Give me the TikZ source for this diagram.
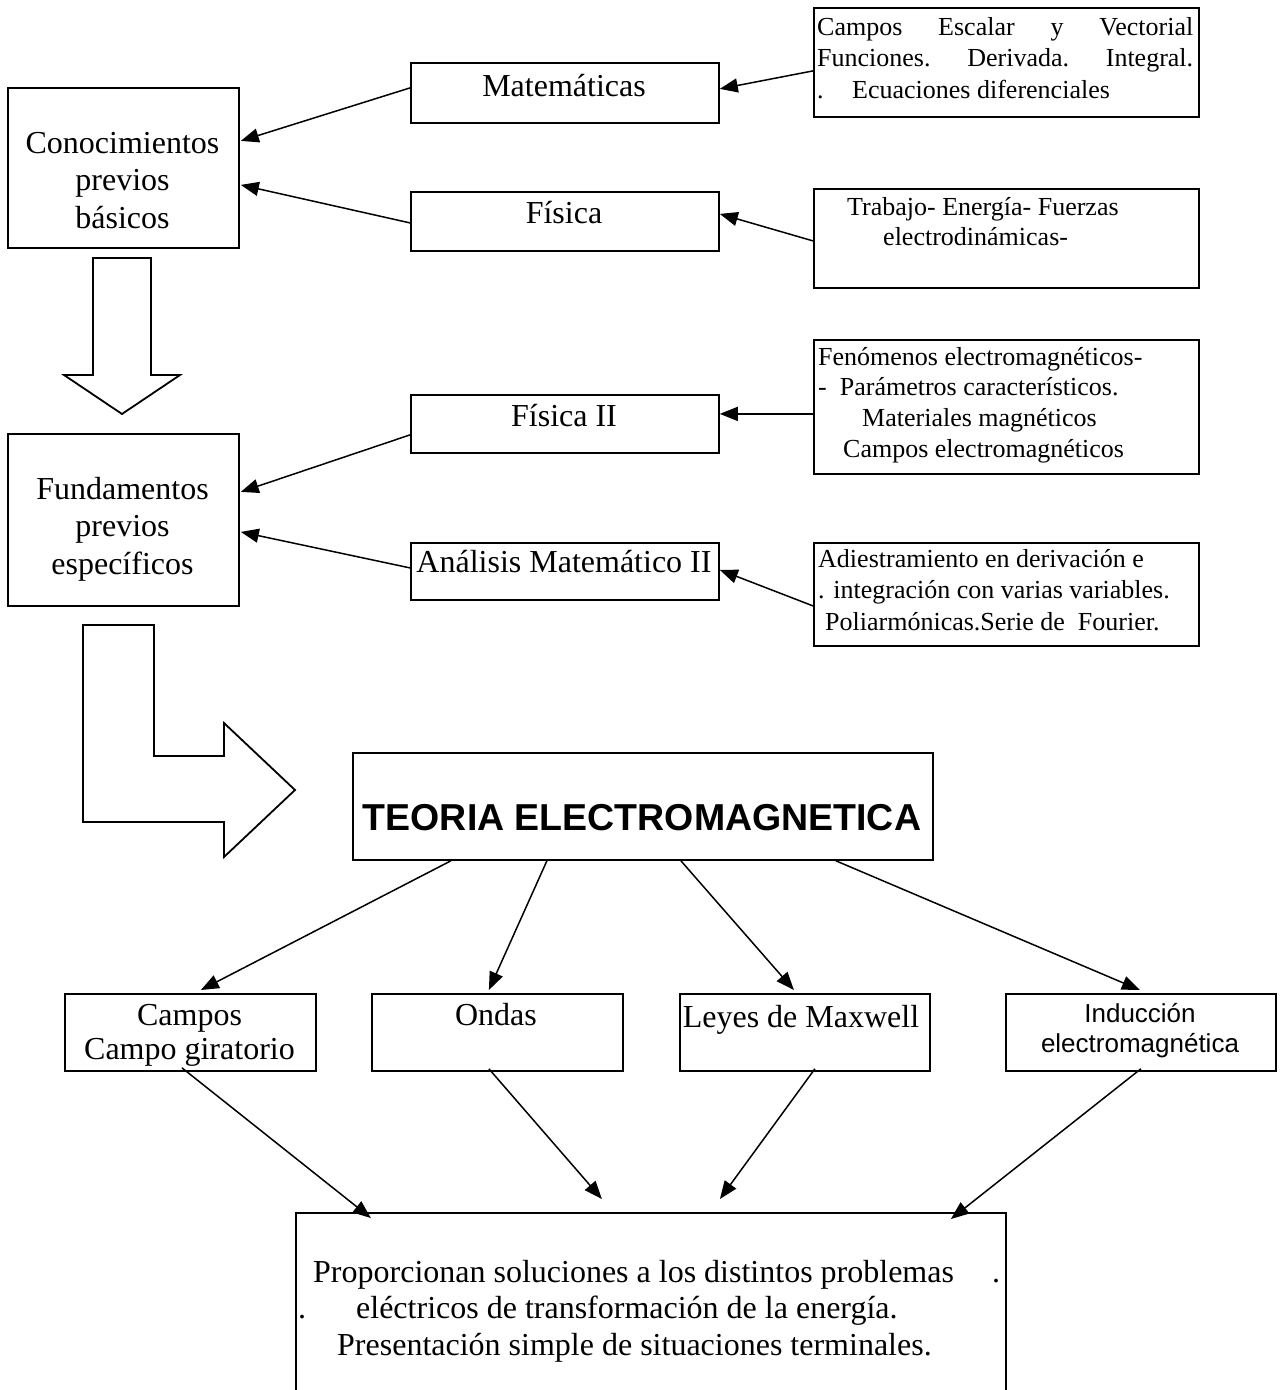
\documentclass[tikz,border=0pt]{standalone}
\usepackage{fontspec}
\setmainfont{Liberation Serif}
\newfontfamily\arialfont{Liberation Sans}
\usetikzlibrary{arrows.meta}
\begin{document}
\begin{tikzpicture}[x=1pt,y=-1pt,
  box/.style={draw, line width=1.8pt, rectangle, inner sep=0pt, anchor=north west},
  conn/.style={line width=1.5pt, -{Triangle[length=18pt,width=14pt]}},
  blockarrow/.style={draw, line width=1.8pt, line join=miter},
  lbl/.style={inner sep=0pt},
  bigtxt/.style={lbl, font=\fontsize{32}{37.5}\selectfont},
  smalltxt/.style={lbl, align=left, anchor=north west},
  sanstxt/.style={lbl, font=\arialfont\fontsize{26}{30}\selectfont}
]
\useasboundingbox (0,0) rectangle (1280,1390);
\fill[white] (0,0) rectangle (1280,1390);
\clip (0,0) rectangle (1280,1390);

% ---------- boxes ----------
\node[box, minimum width=231pt, minimum height=160pt] (conoc) at (7,87) {};
\node[box, minimum width=231pt, minimum height=172pt] (funda) at (7,433) {};
\node[box, minimum width=308pt, minimum height=60pt] (mat) at (410,62) {};
\node[box, minimum width=308pt, minimum height=59pt] (fis) at (410,191) {};
\node[box, minimum width=308pt, minimum height=58pt] (fisii) at (410,394) {};
\node[box, minimum width=308pt, minimum height=57pt] (anal) at (410,542) {};
\node[box, minimum width=385pt, minimum height=109pt] (rone) at (813,7) {};
\node[box, minimum width=385pt, minimum height=99pt] (rtwo) at (813,188) {};
\node[box, minimum width=385pt, minimum height=134pt] (rthree) at (813,339) {};
\node[box, minimum width=385pt, minimum height=103pt] (rfour) at (813,542) {};
\node[box, minimum width=580pt, minimum height=107pt] (teoria) at (352,752) {};
\node[box, minimum width=251pt, minimum height=77pt] (bone) at (64,993) {};
\node[box, minimum width=251pt, minimum height=77pt] (btwo) at (371,993) {};
\node[box, minimum width=250pt, minimum height=77pt] (bthree) at (679,993) {};
\node[box, minimum width=270pt, minimum height=77pt] (bfour) at (1005,993) {};
\node[box, minimum width=710pt, minimum height=220pt] (final) at (295,1212) {};

% ---------- texts ----------
\node[bigtxt, align=center, anchor=north] (conoctxt) at (122.5,126.75)
  {\strut Conocimientos\\\strut previos\\\strut básicos};
\node[bigtxt, align=center, anchor=north] (fundatxt) at (122.5,472.75)
  {\strut Fundamentos\\\strut previos\\\strut específicos};
\node[bigtxt, anchor=base] (mattxt) at (564,96) {Matemáticas};
\node[bigtxt, anchor=base] (fistxt) at (564,223) {Física};
\node[bigtxt, anchor=base] (fisiitxt) at (564,426) {Física II};
\node[bigtxt, anchor=base] (analtxt) at (564,572) {Análisis Matemático II};

\node[smalltxt, font=\fontsize{26}{31.5}\selectfont] (ronetxt) at (817,12.95)
  {\strut\makebox[376pt][s]{Campos Escalar y Vectorial}\\
   \strut\makebox[376pt][s]{Funciones. Derivada. Integral.}\\
   \strut.\hspace*{28.5pt}Ecuaciones diferenciales};
\node[smalltxt, font=\fontsize{26}{30}\selectfont] (rtwotxt) at (847,194)
  {\strut Trabajo- Energía- Fuerzas\\
   \strut\hspace*{36pt}electrodinámicas-};
\node[smalltxt, font=\fontsize{26}{30.7}\selectfont] (rthreetxt) at (818,343.5)
  {\strut Fenómenos electromagnéticos-\\
   \strut -\hspace*{13pt}Parámetros característicos.\\
   \strut\hspace*{44pt}Materiales magnéticos\\
   \strut\hspace*{25pt}Campos electromagnéticos};
\node[smalltxt, font=\fontsize{26}{31.5}\selectfont] (rfourtxt) at (818,544.95)
  {\strut Adiestramiento en derivación e\\
   \strut . integración con varias variables.\\
   \strut\hspace*{7pt}Poliarmónicas.Serie de\ \ Fourier.};

\node[lbl, anchor=base, font=\arialfont\bfseries\fontsize{37.5}{42}\selectfont] (teoriatxt) at (642,830)
  {TEORIA ELECTROMAGNETICA};

\node[lbl, align=center, anchor=north, font=\fontsize{32}{34}\selectfont] (bonetxt) at (189.5,1001.2)
  {\strut Campos\\\strut Campo giratorio};
\node[bigtxt, anchor=base] (btwotxt) at (496,1025) {Ondas};
\node[bigtxt, anchor=base] (bthreetxt) at (801,1027) {Leyes de Maxwell};
\node[sanstxt, align=center, anchor=north] (bfourtxt) at (1140,1001)
  {\strut Inducción\\\strut electromagnética};

\node[smalltxt, font=\fontsize{32}{36.5}\selectfont] (finaltxt) at (298,1256.45)
  {\strut\hspace*{15pt}Proporcionan soluciones a los distintos problemas\hspace{38pt}.\\
   \strut.\hspace*{50pt}eléctricos de transformación de la energía.\\
   \strut\hspace*{39pt}Presentación simple de situaciones terminales.};

% ---------- block arrows ----------
\path[blockarrow] (93,258) -- (151,258) -- (151,375) -- (180,375) -- (122,414)
  -- (64,375) -- (93,375) -- cycle;
\path[blockarrow] (83,625) -- (154,625) -- (154,756) -- (224,756) -- (224,723)
  -- (295,790) -- (224,857) -- (224,822) -- (83,822) -- cycle;

% ---------- connectors ----------
\draw[conn] ([shift={(0,8.5)}]rone.west) -- ([shift={(0,-4)}]mat.east);
\draw[conn] ([shift={(0,2.5)}]rtwo.west) -- ([shift={(0,-7.5)}]fis.east);
\draw[conn] ([shift={(0,7)}]rthree.west) -- ([shift={(0,-10)}]fisii.east);
\draw[conn] ([shift={(0,11.5)}]rfour.west) -- ([shift={(0,-1.5)}]anal.east);
\draw[conn] ([shift={(0,-5)}]mat.west) -- ([shift={(1,-27)}]conoc.east);
\draw[conn] ([shift={(0,1.5)}]fis.west) -- ([shift={(1,17)}]conoc.east);
\draw[conn] ([shift={(0,11)}]fisii.west) -- ([shift={(1,-28)}]funda.east);
\draw[conn] ([shift={(0,-3.5)}]anal.west) -- ([shift={(1,12)}]funda.east);

\draw[conn] ([shift={(-192,0)}]teoria.south) -- ([shift={(10.5,-3)}]bone.north);
\draw[conn] ([shift={(-96,0)}]teoria.south) -- ([shift={(-8.5,-3)}]btwo.north);
\draw[conn] ([shift={(38,0)}]teoria.south) -- ([shift={(-11,-3)}]bthree.north);
\draw[conn] ([shift={(193,0)}]teoria.south) -- ([shift={(-1,-3)}]bfour.north);

\draw[conn] ([shift={(-8.5,-4)}]bone.south) -- ([shift={(-280,6)}]final.north);
\draw[conn] ([shift={(-8.5,-3)}]btwo.south) -- ([shift={(-49,-13)}]final.north);
\draw[conn] ([shift={(10,-3)}]bthree.south) -- ([shift={(69,-13)}]final.north);
\draw[conn] ([shift={(0,-3)}]bfour.south) -- ([shift={(300,7)}]final.north);
\end{tikzpicture}
\end{document}
